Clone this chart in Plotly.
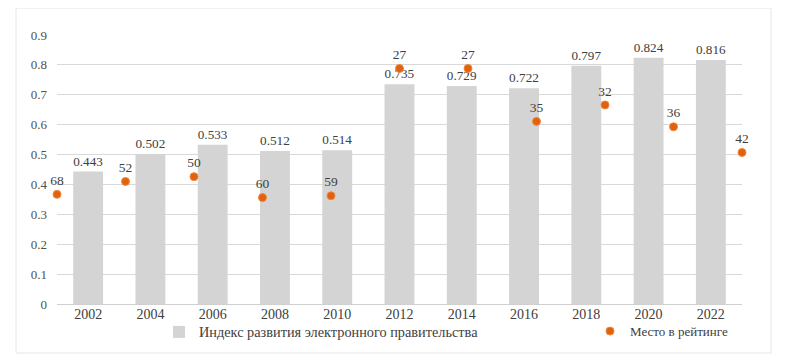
import plotly.graph_objects as go

years = ["2002", "2004", "2006", "2008", "2010", "2012", "2014", "2016", "2018", "2020", "2022"]
egdi_index = [0.443, 0.502, 0.533, 0.512, 0.514, 0.735, 0.729, 0.722, 0.797, 0.824, 0.816]
rank_labels = ["68", "52", "50", "60", "59", "27", "27", "35", "32", "36", "42"]
# height of each rank marker (on the 0–0.9 scale)
rank_marker_level = [0.367, 0.410, 0.426, 0.356, 0.362, 0.788, 0.788, 0.611, 0.666, 0.593, 0.507]
rank_x = list(range(1, len(rank_labels) + 1))

FONT = "serif"
TXT = "#404040"

fig = go.Figure()
fig.add_trace(go.Bar(
    x=years, y=egdi_index, name="Индекс развития электронного правительства",
    marker=dict(color="#d4d4d4", line=dict(width=0)),
    text=[f"{v:.3f}" for v in egdi_index], textposition="outside",
    textfont=dict(family=FONT, size=13.5, color=TXT), cliponaxis=False,
    legend="legend",
))
fig.add_trace(go.Scatter(
    x=rank_x, y=rank_marker_level, xaxis="x2", yaxis="y",
    mode="markers+text", name="Место в рейтинге",
    marker=dict(color="#e0620e", size=8, line=dict(color="#f0883c", width=1)),
    text=rank_labels, textposition="top center",
    textfont=dict(family=FONT, size=13.5, color=TXT), cliponaxis=False,
    legend="legend2",
))

# the page body has an 8px margin, so figure coordinates = screen coordinates - 8
W, H = 685, 269
L, T = 49, 27
fig.update_layout(
    width=790, height=363,
    margin=dict(l=L, r=790 - L - W, t=T, b=363 - T - H),
    paper_bgcolor="white", plot_bgcolor="white",
    font=dict(family=FONT, size=13, color=TXT),
    bargap=0.52,
    showlegend=True,
    legend=dict(x=(151 - L) / W, xanchor="left", y=-0.045, yanchor="top",
                font=dict(family=FONT, size=14.3, color=TXT), bgcolor="rgba(0,0,0,0)"),
    legend2=dict(x=(582 - L) / W, xanchor="left", y=-0.045, yanchor="top",
                 font=dict(family=FONT, size=13, color=TXT), bgcolor="rgba(0,0,0,0)"),
    xaxis=dict(showgrid=False, showline=False, ticks="", tickfont=dict(family=FONT, size=14, color=TXT)),
    xaxis2=dict(overlaying="x", range=[1, 11], visible=False, anchor="y"),
    yaxis=dict(range=[0, 0.9], dtick=0.1, showgrid=True, gridcolor="#d9d9d9", gridwidth=1,
               zeroline=True, zerolinecolor="#d0d0d0", zerolinewidth=1,
               showline=False, ticks="", ticklabelstandoff=9,
               tickfont=dict(family=FONT, size=13, color="#505050")),
    shapes=[dict(type="rect", xref="paper", yref="paper",
                 x0=(8 - L) / W, x1=(763 - L) / W, y0=(T + H - 345) / H, y1=(T + H - 0) / H,
                 line=dict(color="#e6e6e6", width=1), layer="below")],
)

fig.write_html("out.html")
